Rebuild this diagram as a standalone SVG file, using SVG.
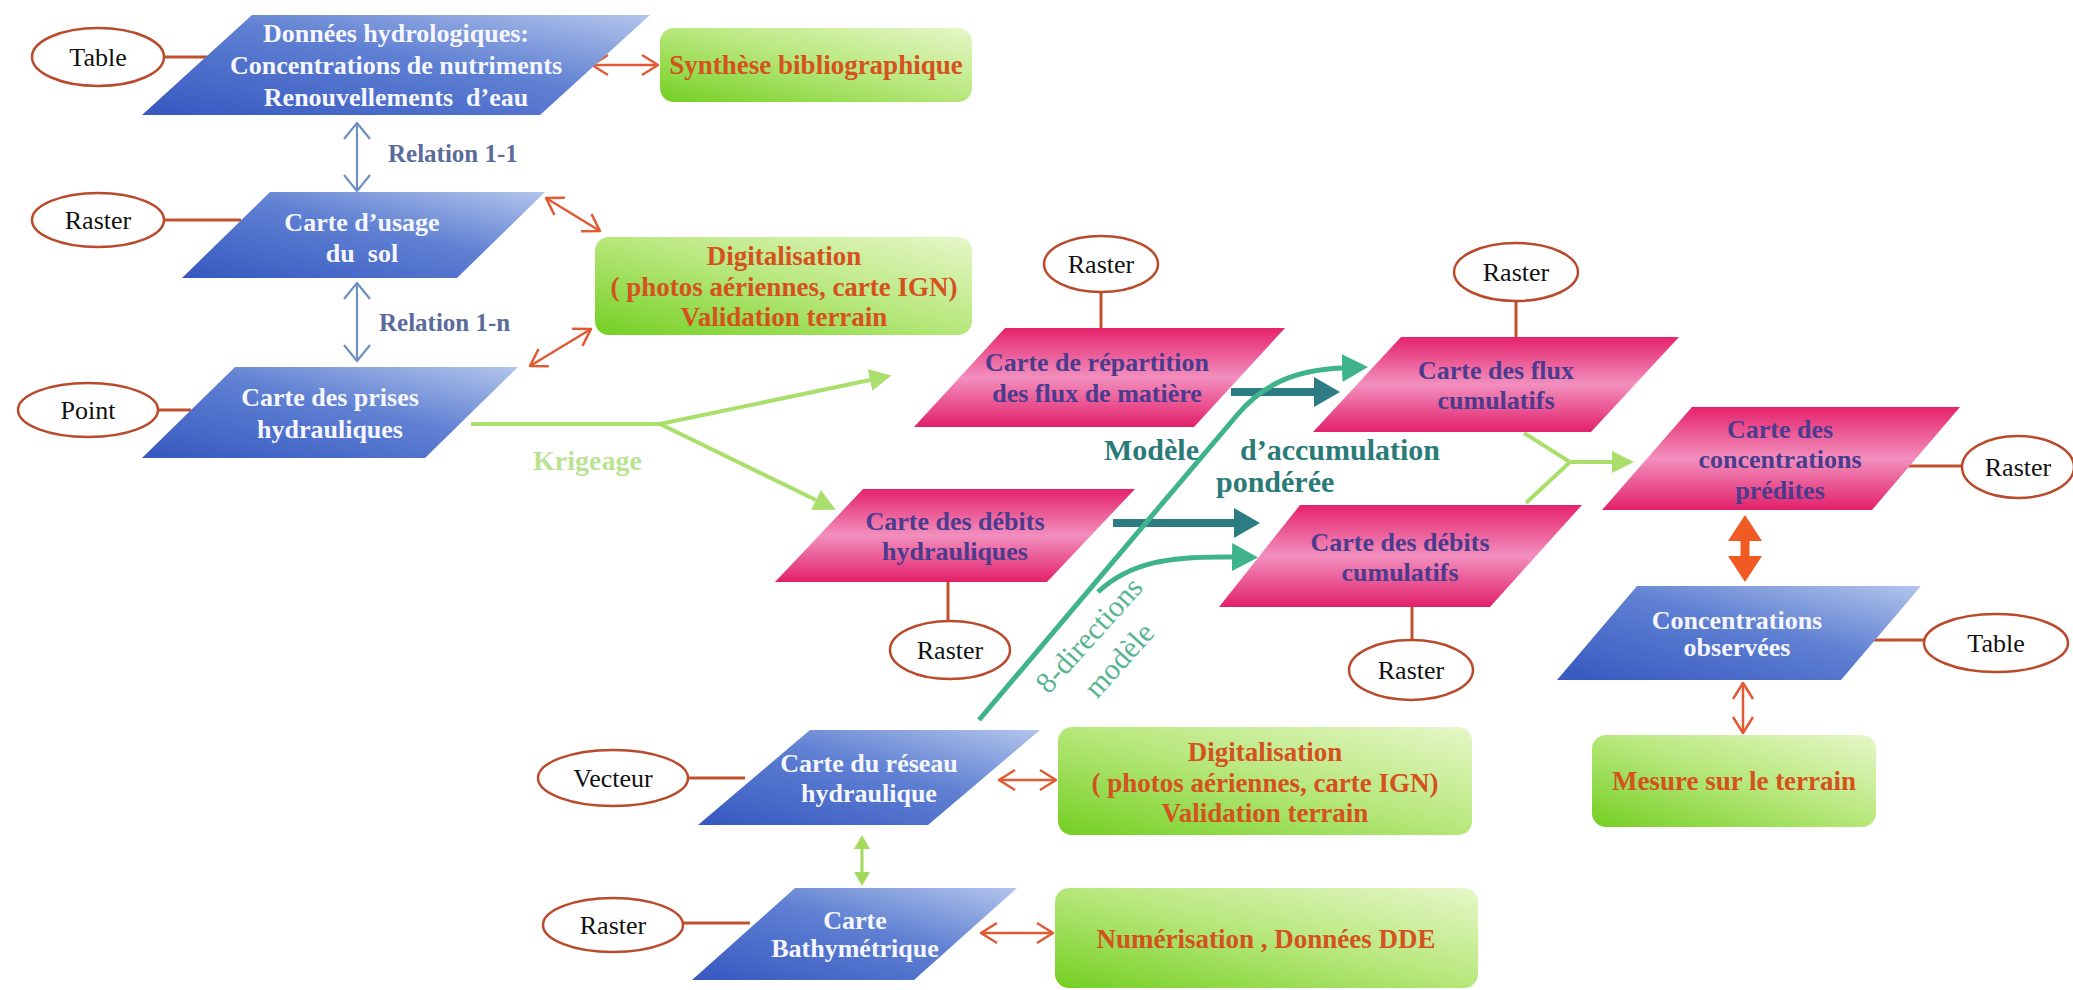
<svg xmlns="http://www.w3.org/2000/svg" width="2073" height="990" viewBox="0 0 2073 990">
<style>
.ell{fill:#ffffff;stroke:#b94a2b;stroke-width:2.5}
.et{font-family:"Liberation Serif","Times New Roman",serif;font-size:26px;fill:#111;text-anchor:middle}
.nt{font-family:"Liberation Serif","Times New Roman",serif;font-size:26px;font-weight:bold;fill:#f6f6ff;text-anchor:middle}
.pt{font-family:"Liberation Serif","Times New Roman",serif;font-size:26px;font-weight:bold;fill:#4b3b8e;text-anchor:middle}
.gt{font-family:"Liberation Serif","Times New Roman",serif;font-size:27px;font-weight:bold;fill:#d5511d;text-anchor:middle}
.blue{fill:url(#gBlue)}
.pink{fill:url(#gPink)}
.green{fill:url(#gGreen)}
.link{stroke:#c0502e;stroke-width:3;fill:none}
.redarr{stroke:#e05b33;stroke-width:2.5;fill:none;marker-start:url(#mRed);marker-end:url(#mRed)}
.bluearr{stroke:#6e90c2;stroke-width:2.2;fill:none;marker-start:url(#mBlue);marker-end:url(#mBlue)}
.krig{stroke:#a9df6a;stroke-width:4;fill:none}
.lbl{font-family:"Liberation Serif","Times New Roman",serif;font-weight:bold}
</style>
<defs>
<linearGradient id="gBlue" x1="0" y1="1" x2="1" y2="0">
<stop offset="0" stop-color="#3658c0"/>
<stop offset="0.55" stop-color="#5f80d2"/>
<stop offset="1" stop-color="#b3c5ec"/>
</linearGradient>
<linearGradient id="gPink" x1="0" y1="0" x2="0" y2="1">
<stop offset="0" stop-color="#e5226c"/>
<stop offset="0.5" stop-color="#f28fbe"/>
<stop offset="1" stop-color="#e2206a"/>
</linearGradient>
<linearGradient id="gGreen" x1="0" y1="1" x2="1" y2="0">
<stop offset="0" stop-color="#74cf22"/>
<stop offset="0.5" stop-color="#b6e77a"/>
<stop offset="1" stop-color="#e6f7c8"/>
</linearGradient>
<marker id="mRed" viewBox="0 0 20 22" refX="17" refY="11" markerWidth="20" markerHeight="22" markerUnits="userSpaceOnUse" orient="auto-start-reverse" overflow="visible">
<path d="M1,1 L17,11 L1,21" fill="none" stroke="#e05b33" stroke-width="2.5" stroke-linejoin="round"/>
</marker>
<marker id="mBlue" viewBox="0 0 20 28" refX="17" refY="14" markerWidth="20" markerHeight="28" markerUnits="userSpaceOnUse" orient="auto-start-reverse" overflow="visible">
<path d="M1,1 L17,14 L1,27" fill="none" stroke="#6e90c2" stroke-width="2.2" stroke-linejoin="round"/>
</marker>
<marker id="mKrig" viewBox="0 0 22 22" refX="0" refY="11" markerWidth="22" markerHeight="22" markerUnits="userSpaceOnUse" orient="auto">
<path d="M0,0 L22,11 L0,22 z" fill="#a9df6a"/>
</marker>
<marker id="mTeal" viewBox="0 0 26 30" refX="0" refY="15" markerWidth="26" markerHeight="30" markerUnits="userSpaceOnUse" orient="auto">
<path d="M0,0 L26,15 L0,30 z" fill="#2d7b83"/>
</marker>
<marker id="mTg" viewBox="0 0 26 28" refX="0" refY="14" markerWidth="26" markerHeight="28" markerUnits="userSpaceOnUse" orient="auto">
<path d="M0,0 L26,14 L0,28 z" fill="#3fb38b"/>
</marker>
<marker id="mOr" viewBox="0 0 26 34" refX="0" refY="17" markerWidth="26" markerHeight="34" markerUnits="userSpaceOnUse" orient="auto-start-reverse">
<path d="M0,0 L26,17 L0,34 z" fill="#f05a23"/>
</marker>
<marker id="mGs" viewBox="0 0 14 16" refX="0" refY="8" markerWidth="14" markerHeight="16" markerUnits="userSpaceOnUse" orient="auto-start-reverse">
<path d="M0,0 L14,8 L0,16 z" fill="#a3da5c"/>
</marker>
</defs>

<g id="connectors">
<path class="link" d="M164 57 H208"/>
<path class="link" d="M164 220 H241"/>
<path class="link" d="M158 410 H191"/>
<path class="link" d="M1101 292 V328"/>
<path class="link" d="M948 582 V621"/>
<path class="link" d="M1516 301 V337"/>
<path class="link" d="M1412 607 V640"/>
<path class="link" d="M1908 466 H1962"/>
<path class="link" d="M1869 640 H1924"/>
<path class="link" d="M688 778 H745"/>
<path class="link" d="M683 923 H750"/>
<path class="redarr" d="M592 65 L658 65"/>
<path class="redarr" d="M546 198 L600 231"/>
<path class="redarr" d="M530 366 L591 329"/>
<path class="redarr" d="M999 780 L1056 780"/>
<path class="redarr" d="M981 933 L1053 933"/>
<path class="redarr" d="M1743 683 L1743 733"/>
<path class="bluearr" d="M357 123 V191"/>
<path class="bluearr" d="M357 283 V361"/>
<path class="krig" d="M471 424 H660"/>
<path class="krig" d="M660 424 L870 380" marker-end="url(#mKrig)"/>
<path class="krig" d="M660 424 L816 500" marker-end="url(#mKrig)"/>
<path class="krig" d="M1524 433 L1570 462 L1526 503 M1570 462 H1612" marker-end="url(#mKrig)"/>
<path d="M1231 392 H1314" stroke="#2d7b83" stroke-width="8" fill="none" marker-end="url(#mTeal)"/>
<path d="M1113 523 H1234" stroke="#2d7b83" stroke-width="8" fill="none" marker-end="url(#mTeal)"/>
<path d="M979 720 L1238 414 C1260 388 1290 370 1342 368" stroke="#3fb38b" stroke-width="5" fill="none" marker-end="url(#mTg)"/>
<path d="M1098 592 C1130 562 1170 556 1232 557" stroke="#3fb38b" stroke-width="5" fill="none" marker-end="url(#mTg)"/>
<path d="M1745 541 V556" stroke="#f05a23" stroke-width="9" fill="none" marker-start="url(#mOr)" marker-end="url(#mOr)"/>
<path d="M862 849 V872" stroke="#a3da5c" stroke-width="3" fill="none" marker-start="url(#mGs)" marker-end="url(#mGs)"/>
</g>

<g id="labels">
<text class="lbl" x="388" y="162" font-size="25" fill="#5b6b9b">Relation 1-1</text>
<text class="lbl" x="379" y="331" font-size="25" fill="#5b6b9b">Relation 1-n</text>
<text class="lbl" x="533" y="470" font-size="28" fill="#b9e392">Krigeage</text>
<text class="lbl" x="1104" y="460" font-size="30" fill="#2a7a78">Modèle</text>
<text class="lbl" x="1240" y="460" font-size="30" fill="#2a7a78">d’accumulation</text>
<text class="lbl" x="1216" y="492" font-size="30" fill="#2a7a78">pondérée</text>
<text x="1089" y="645" font-family="Liberation Serif, Times New Roman, serif" font-size="30" fill="#56b48f" text-anchor="middle" transform="rotate(-48 1089 635)">8-directions</text>
<text x="1119" y="670" font-family="Liberation Serif, Times New Roman, serif" font-size="30" fill="#56b48f" text-anchor="middle" transform="rotate(-48 1119 660)">modèle</text>
</g>

<g id="n-donnees"><polygon class="blue" points="252,15 650,15 540,115 142,115"/>
<text class="nt" x="396" y="42">Données hydrologiques:</text>
<text class="nt" x="396" y="74">Concentrations de nutriments</text>
<text class="nt" x="396" y="106" style="white-space:pre">Renouvellements  d’eau</text></g>

<g id="n-usage"><polygon class="blue" points="270,192 545,192 457,278 182,278"/>
<text class="nt" x="362" y="231">Carte d’usage</text>
<text class="nt" x="362" y="262" style="white-space:pre">du  sol</text></g>

<g id="n-prises"><polygon class="blue" points="235,367 518,367 425,458 142,458"/>
<text class="nt" x="330" y="406">Carte des prises</text>
<text class="nt" x="330" y="438">hydrauliques</text></g>

<g id="n-repartition"><polygon class="pink" points="1005,328 1285,328 1194,427 914,427"/>
<text class="pt" x="1097" y="371">Carte de répartition</text>
<text class="pt" x="1097" y="402">des flux de matière</text></g>

<g id="n-debits-hydr"><polygon class="pink" points="863,489 1135,489 1047,582 775,582"/>
<text class="pt" x="955" y="530">Carte des débits</text>
<text class="pt" x="955" y="560">hydrauliques</text></g>

<g id="n-flux-cumul"><polygon class="pink" points="1401,337 1679,337 1591,432 1313,432"/>
<text class="pt" x="1496" y="379">Carte des flux</text>
<text class="pt" x="1496" y="409">cumulatifs</text></g>

<g id="n-debits-cumul"><polygon class="pink" points="1300,505 1582,505 1490,607 1219,607"/>
<text class="pt" x="1400" y="551">Carte des débits</text>
<text class="pt" x="1400" y="581">cumulatifs</text></g>

<g id="n-conc-pred"><polygon class="pink" points="1692,407 1960,407 1872,510 1602,510"/>
<text class="pt" x="1780" y="438">Carte des</text>
<text class="pt" x="1780" y="468">concentrations</text>
<text class="pt" x="1780" y="499">prédites</text></g>

<g id="n-conc-obs"><polygon class="blue" points="1637,586 1921,586 1841,680 1557,680"/>
<text class="nt" x="1737" y="629">Concentrations</text>
<text class="nt" x="1737" y="656">observées</text></g>

<g id="n-reseau"><polygon class="blue" points="810,730 1040,730 928,825 698,825"/>
<text class="nt" x="869" y="772">Carte du réseau</text>
<text class="nt" x="869" y="802">hydraulique</text></g>

<g id="n-bathy"><polygon class="blue" points="795,888 1017,888 914,980 692,980"/>
<text class="nt" x="855" y="929">Carte</text>
<text class="nt" x="855" y="957">Bathymétrique</text></g>

<g id="b-synthese"><rect class="green" x="660" y="28" width="312" height="74" rx="14"/>
<text class="gt" x="816" y="74">Synthèse bibliographique</text></g>

<g id="b-digit1"><rect class="green" x="595" y="237" width="377" height="98" rx="14"/>
<text class="gt" x="784" y="265">Digitalisation</text>
<text class="gt" x="784" y="296">( photos aériennes, carte IGN)</text>
<text class="gt" x="784" y="326">Validation terrain</text></g>

<g id="b-digit2"><rect class="green" x="1058" y="727" width="414" height="108" rx="14"/>
<text class="gt" x="1265" y="761">Digitalisation</text>
<text class="gt" x="1265" y="792">( photos aériennes, carte IGN)</text>
<text class="gt" x="1265" y="822">Validation terrain</text></g>

<g id="b-numer"><rect class="green" x="1055" y="888" width="423" height="100" rx="14"/>
<text class="gt" x="1266" y="948">Numérisation , Données DDE</text></g>

<g id="b-mesure"><rect class="green" x="1592" y="735" width="284" height="92" rx="14"/>
<text class="gt" x="1734" y="790">Mesure sur le terrain</text></g>

<g id="e-table1"><ellipse class="ell" cx="98" cy="57" rx="66" ry="29"/><text class="et" x="98" y="66">Table</text></g>
<g id="e-raster1"><ellipse class="ell" cx="98" cy="220" rx="66" ry="27"/><text class="et" x="98" y="229">Raster</text></g>
<g id="e-point"><ellipse class="ell" cx="88" cy="410" rx="70" ry="27"/><text class="et" x="88" y="419">Point</text></g>
<g id="e-raster2"><ellipse class="ell" cx="1101" cy="264" rx="57" ry="28"/><text class="et" x="1101" y="273">Raster</text></g>
<g id="e-raster3"><ellipse class="ell" cx="950" cy="650" rx="60" ry="29"/><text class="et" x="950" y="659">Raster</text></g>
<g id="e-raster4"><ellipse class="ell" cx="1516" cy="272" rx="62" ry="29"/><text class="et" x="1516" y="281">Raster</text></g>
<g id="e-raster5"><ellipse class="ell" cx="1411" cy="670" rx="62" ry="30"/><text class="et" x="1411" y="679">Raster</text></g>
<g id="e-raster6"><ellipse class="ell" cx="2018" cy="467" rx="56" ry="31"/><text class="et" x="2018" y="476">Raster</text></g>
<g id="e-table2"><ellipse class="ell" cx="1996" cy="643" rx="72" ry="29"/><text class="et" x="1996" y="652">Table</text></g>
<g id="e-vecteur"><ellipse class="ell" cx="613" cy="778" rx="75" ry="28"/><text class="et" x="613" y="787">Vecteur</text></g>
<g id="e-raster7"><ellipse class="ell" cx="613" cy="925" rx="70" ry="27"/><text class="et" x="613" y="934">Raster</text></g>
</svg>
